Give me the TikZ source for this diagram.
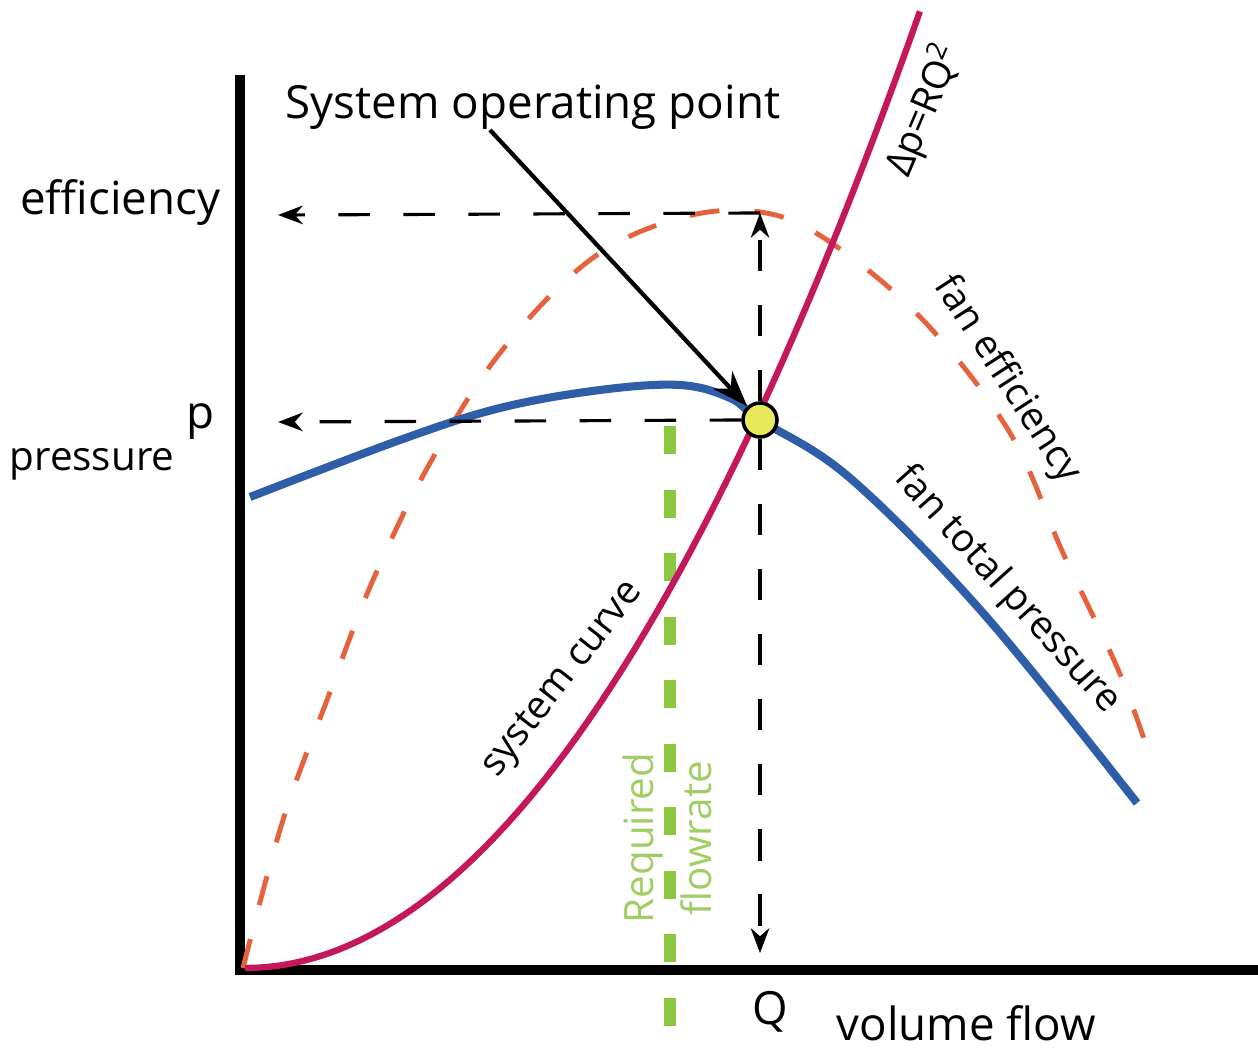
\documentclass[tikz,border=0pt]{standalone}
\usepackage{fontspec}
\setmainfont{Open Sans}
\usetikzlibrary{arrows.meta,positioning,calc}
\definecolor{syscol}{RGB}{196,23,92}
\definecolor{fancol}{RGB}{47,94,168}
\definecolor{effcol}{RGB}{229,98,60}
\definecolor{reqcol}{RGB}{141,198,63}
\definecolor{reqtxt}{RGB}{160,205,100}
\definecolor{opcol}{RGB}{232,232,90}

\begin{document}
\begin{tikzpicture}[x=0.1mm,y=-0.1mm,>=Stealth,
  axisline/.style={line width=3pt,line join=miter},
  guide/.style={->,line width=0.9pt,dash pattern=on 9pt off 9.5pt},
  big/.style={font=\fontsize{13}{15}\selectfont,inner sep=0pt},
  small/.style={font=\fontsize{11}{13}\selectfont,inner sep=0pt}]
\useasboundingbox (0,0) rectangle (1258,1047);
% axes
\coordinate (top) at (240,75);
\coordinate (origin) at (240,970);
\coordinate (right) at (1258,970);
\draw[axisline] (top) -- (origin) -- (right);
% required flowrate
\coordinate (reqtop) at (670,426);
\coordinate (reqbot) at (670,1030);
\draw[reqcol,line width=3.4pt,dash pattern=on 8pt off 10.07pt] (reqtop) -- (reqbot);
\node[reqtxt,rotate=90,align=center,font=\fontsize{11.5}{16.5}\selectfont] (req) at (667,838) {Required\\flowrate};
% curves
\draw[effcol,line width=1.4pt,dash pattern=on 8.5pt off 10pt]
  plot[smooth,tension=0.6] coordinates {(243,968) (283,820) (327,700) (373,580) (430,463) (500,353) (590,260) (680,218) (760,212) (827,240) (923,320) (1010,433) (1063,553) (1117,667) (1145,742)};
\draw[syscol,line width=1.8pt] plot[domain=0:6.75,samples=60] ({245+100*\x},{968-21*\x*\x});
\draw[fancol,line width=2.3pt]
  plot[smooth,tension=0.6] coordinates {(250,497) (400,440) (500,408) (600,390) (680,385) (730,398) (760,420) (850,478) (983,613) (1137,803)};
% operating point
\node[circle,draw,line width=1pt,fill=opcol,minimum size=3.4mm,inner sep=0pt] (op) at (760,420) {};
\coordinate (effpk) at (760,213);
\coordinate (effax) at (278,215);
\coordinate (pax) at (278,422);
\coordinate (qax) at (760,953);
\draw[guide] (effpk) -- (effax);
\draw[guide] (op.west) -- (pax);
\draw[guide] (op.north) -- (effpk);
\draw[guide] (op.south) -- (qax);
% labels
\node[big] (title) at (533,107) {System operating point};
\coordinate (arrstart) at (490,130);
\draw[-{Stealth[length=3.6mm,width=2.6mm]},line width=1.2pt] (arrstart) -- (op);
\node[big,anchor=east] (efflbl) at (221,203) {efficiency};
\node[big,anchor=base] (plbl) at (200,428) {p};
\node[small,font=\fontsize{11.5}{13}\selectfont,anchor=base] (preslbl) at (92,470) {pressure};
\node[big] (qlbl) at (770,1012) {Q};
\node[big,anchor=base west] (flowlbl) at (836,1040) {volume flow};
\node[small,rotate=52] (syslbl) at (564,680) {system curve};
\node[small,rotate=-57] (efflbl2) at (1007,380) {fan efficiency};
\node[small,rotate=-48] (fanlbl) at (1007,590) {fan total pressure};
\node[small,rotate=67] (rqlbl) at (924,110) {Δp=RQ\textsuperscript{2}};
\end{tikzpicture}
\end{document}
